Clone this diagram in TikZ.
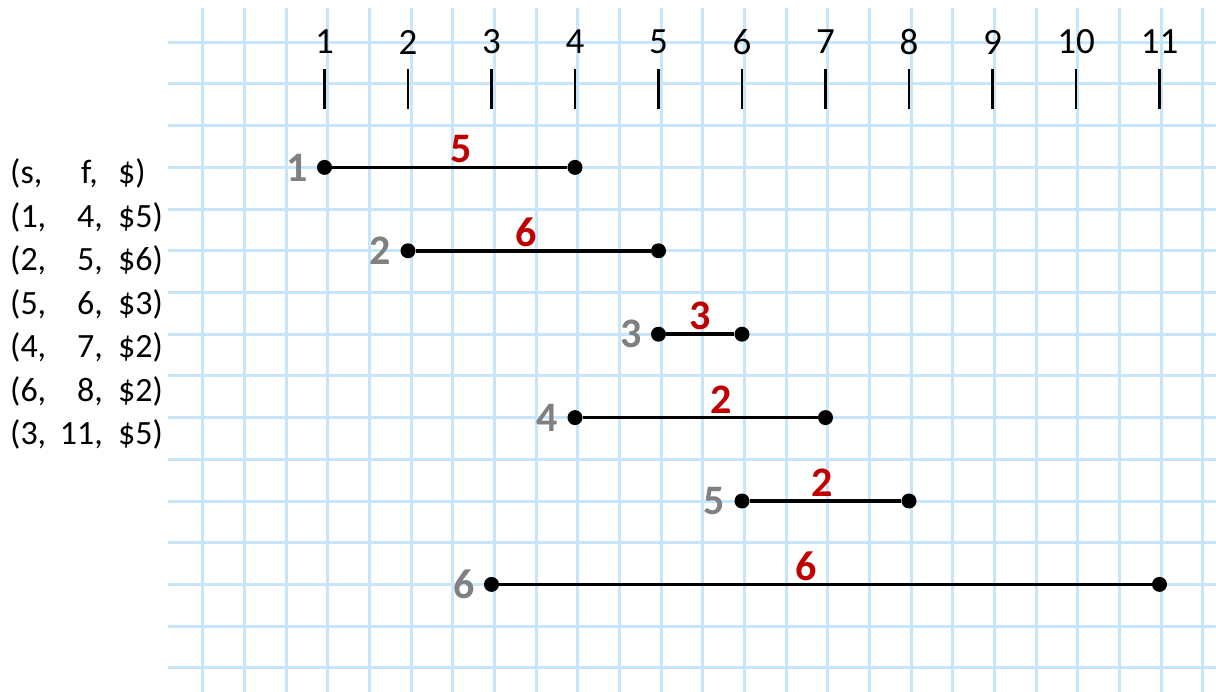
\documentclass[tikz,border=0pt]{standalone}
\usepackage{fontspec}
\setmainfont{Carlito}
\usepackage{xcolor}
\definecolor{gridblue}{HTML}{C8E6FA}
\definecolor{weightred}{HTML}{C00000}
\definecolor{idxgray}{HTML}{808080}
\usetikzlibrary{positioning}

\tikzset{
  gridline/.style={gridblue, line width=3pt},
  tickmark/.style={black, line width=2.5pt},
  ticklabel/.style={font=\fontsize{37}{44}\selectfont, inner sep=0pt},
  rowtext/.style={font=\fontsize{34}{40}\selectfont, inner sep=0pt},
  dotnode/.style={circle, fill=black, minimum size=15pt, inner sep=0pt},
  interval/.style={black, line width=3.5pt},
  wlabel/.style={font=\fontsize{42}{50}\selectfont\bfseries, text=weightred, inner sep=0pt},
  idxlabel/.style={font=\fontsize{42}{50}\selectfont\bfseries, text=idxgray, inner sep=0pt},
}

\begin{document}
\begin{tikzpicture}[x=1pt, y=-1pt]
  \useasboundingbox (0,0) rectangle (1216,692);

  % squared paper
  \foreach \i in {0,...,24}
    \draw[gridline] (202.7+41.67*\i, 8) -- (202.7+41.67*\i, 692);
  \foreach \j in {0,...,15}
    \draw[gridline] (168, 42.3+41.7*\j) -- (1216, 42.3+41.7*\j);

  % time axis
  \foreach \k in {1,...,11} {
    \pgfmathsetmacro{\tx}{324.5+83.5*(\k-1)}
    \node[ticklabel] (lab\k) at (\tx, 42) {\k};
    \coordinate (tick\k) at (\tx, 109);
    \draw[tickmark] (tick\k) -- ++(0, -40);
  }

  % the job list
  \foreach \a/\b/\c/\e [count=\r from 0] in {{(s,}/{f,}/{\$)}/98, {(1,}/{4,}/{\$5)}/103,
      {(2,}/{5,}/{\$6)}/103, {(5,}/{6,}/{\$3)}/103, {(4,}/{7,}/{\$2)}/103,
      {(6,}/{8,}/{\$2)}/103, {(3,}/{11,}/{\$5)}/103} {
    \pgfmathsetmacro{\by}{184+43.5*\r}
    \node[rowtext, anchor=base west] (sc\r) at (10, \by) {\a};
    \node[rowtext, anchor=base east] (fc\r) at (\e, \by) {\b};
    \node[rowtext, anchor=base west] (wc\r) at (118, \by) {\c};
  }

  % intervals
  \foreach \s/\f/\j/\w/\p [count=\n] in {1/4/3/5/0.55, 2/5/5/6/0.47,
      5/6/7/3/0.5, 4/7/9/2/0.59, 6/8/11/2/0.48, 3/11/13/6/0.47} {
    \pgfmathsetmacro{\xs}{324.5+83.5*(\s-1)}
    \pgfmathsetmacro{\xf}{324.5+83.5*(\f-1)}
    \pgfmathsetmacro{\yy}{42.3+41.7*\j}
    \node[dotnode] (start\n) at (\xs, \yy) {};
    \node[dotnode] (end\n) at (\xf, \yy) {};
    \draw[interval] (start\n) -- node[wlabel, pos=\p, yshift=18pt] {\w} (end\n);
    \node[idxlabel, left=9pt of start\n] (idx\n) {\n};
  }
\end{tikzpicture}
\end{document}
